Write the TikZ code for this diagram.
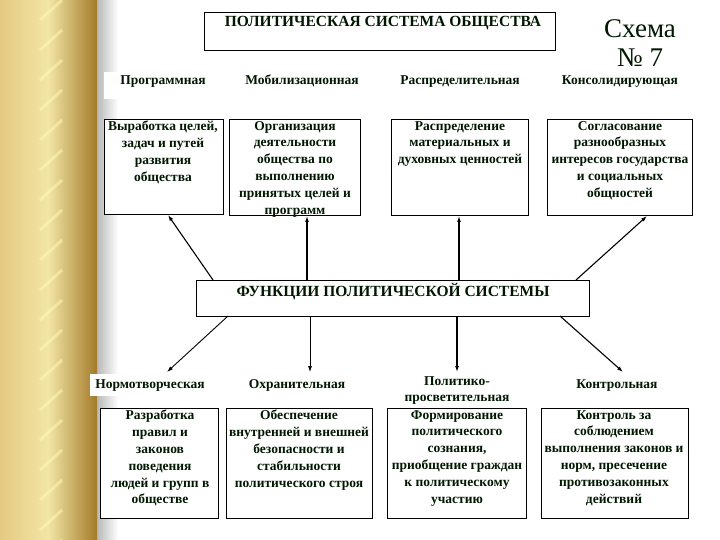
\documentclass[tikz,border=0pt]{standalone}
\usepackage{fontspec}
\setmainfont{Liberation Serif}
\usetikzlibrary{arrows.meta}
\begin{document}
\begin{tikzpicture}[x=1pt,y=-1pt,
  box/.style={draw=black,line width=0.8pt,fill=white},
  txt/.style={font=\fontsize{13.5}{16.8}\selectfont\bfseries,align=center,anchor=north,inner sep=0pt,text=black!85!green!60!black},
  lab/.style={font=\fontsize{13.5}{16.8}\selectfont\bfseries,align=center,anchor=base,inner sep=0pt,text=black!85!green!60!black},
  arr/.style={-{Latex[length=6pt,width=4pt]},line width=1.1pt}]
\useasboundingbox (0,0) rectangle (720,540);
\fill[white] (0,0) rectangle (720,540);
% decoration
\shade[left color=white!40!gray,right color=white] (95,0) rectangle (118,540);
\shade[left color=yellow!30!brown!60,right color=yellow!50!brown!40] (0,0) rectangle (48,540);
\shade[left color=yellow!50!brown!40,right color=yellow!20!brown!80!black] (48,0) rectangle (97,540);
\foreach \yy in {0,30,...,540} \draw[white!70!yellow,line width=3pt,opacity=0.5] (40,\yy+20) -- (62,\yy);
% title
\node[box,minimum width=351,minimum height=38,anchor=north west] (title) at (204,12) {};
\node[lab,font=\fontsize{15.5}{18}\selectfont\bfseries] (tt) at (383,27) {ПОЛИТИЧЕСКАЯ СИСТЕМА ОБЩЕСТВА};
\node[lab,font=\fontsize{27}{28}\selectfont] (sch) at (640,38) {Схема};
\node[lab,font=\fontsize{27}{28}\selectfont] (num) at (640,67) {№ 7};
% top labels
\fill[white] (104,72) rectangle (236,99);
\node[lab] (l1) at (163,85) {Программная};
\node[lab] (l2) at (302,85) {Мобилизационная};
\node[lab] (l3) at (460,85) {Распределительная};
\node[lab] (l4) at (620,85) {Консолидирующая};
% top boxes
\node[box,minimum width=119,minimum height=95,anchor=north west] (b1) at (104,119) {};
\node[box,minimum width=131,minimum height=96,anchor=north west] (b2) at (229,119) {};
\node[box,minimum width=137,minimum height=96,anchor=north west] (b3) at (391,119) {};
\node[box,minimum width=145,minimum height=96,anchor=north west] (b4) at (547,119) {};
\node[txt] (t1) at (163,121) {Выработка целей,\\задач и путей\\развития\\общества};
\node[txt] (t2) at (295,121) {Организация\\деятельности\\общества по\\выполнению\\принятых целей и\\программ};
\node[txt] (t3) at (460,121) {Распределение\\материальных и\\духовных ценностей};
\node[txt] (t4) at (620,121) {Согласование\\разнообразных\\интересов государства\\и социальных\\общностей};
% center
\node[box,minimum width=393,minimum height=36,anchor=north west] (c) at (196,280) {};
\node[lab,font=\fontsize{15.5}{18}\selectfont\bfseries] (ct) at (393,296) {ФУНКЦИИ ПОЛИТИЧЕСКОЙ СИСТЕМЫ};
\coordinate (ca) at (213,280); \coordinate (cb) at (307,280); \coordinate (cc) at (459,280); \coordinate (cd) at (576,280);
\coordinate (ua) at (168,215); \coordinate (ub) at (307,216); \coordinate (uc) at (459,216); \coordinate (ud) at (647,216);
\draw[arr] (ca) -- (ua); \draw[arr] (cb) -- (ub); \draw[arr] (cc) -- (uc); \draw[arr] (cd) -- (ud);
\coordinate (da) at (228,316); \coordinate (db) at (310,316); \coordinate (dc) at (457,316); \coordinate (dd) at (560,316);
\coordinate (ea) at (167,372); \coordinate (eb) at (310,372); \coordinate (ec) at (457,372); \coordinate (ed) at (623,372);
\draw[arr,line width=0.9pt] (da) -- (ea); \draw[arr,line width=0.7pt] (db) -- (eb); \draw[arr] (dc) -- (ec); \draw[arr] (dd) -- (ed);
% bottom labels
\fill[white] (90,374) rectangle (210,396);
\node[lab] (m1) at (150,388) {Нормотворческая};
\node[lab] (m2) at (297,388) {Охранительная};
\node[txt] (m3) at (457,376) {Политико-\\просветительная};
\node[lab] (m4) at (617,388) {Контрольная};
% bottom boxes
\node[box,minimum width=118,minimum height=110,anchor=north west] (d1) at (100,408) {};
\node[box,minimum width=146,minimum height=110,anchor=north west] (d2) at (226,408) {};
\node[box,minimum width=139,minimum height=110,anchor=north west] (d3) at (387,408) {};
\node[box,minimum width=147,minimum height=110,anchor=north west] (d4) at (541,408) {};
\node[txt] (s1) at (160,410) {Разработка\\правил и\\законов\\поведения\\людей и групп в\\обществе};
\node[txt] (s2) at (299,410) {Обеспечение\\внутренней и внешней\\безопасности и\\стабильности\\политического строя};
\node[txt] (s3) at (457,410) {Формирование\\политического\\сознания,\\приобщение граждан\\к политическому\\участию};
\node[txt] (s4) at (614,410) {Контроль за\\соблюдением\\выполнения законов и\\норм, пресечение\\противозаконных\\действий};
\end{tikzpicture}
\end{document}
